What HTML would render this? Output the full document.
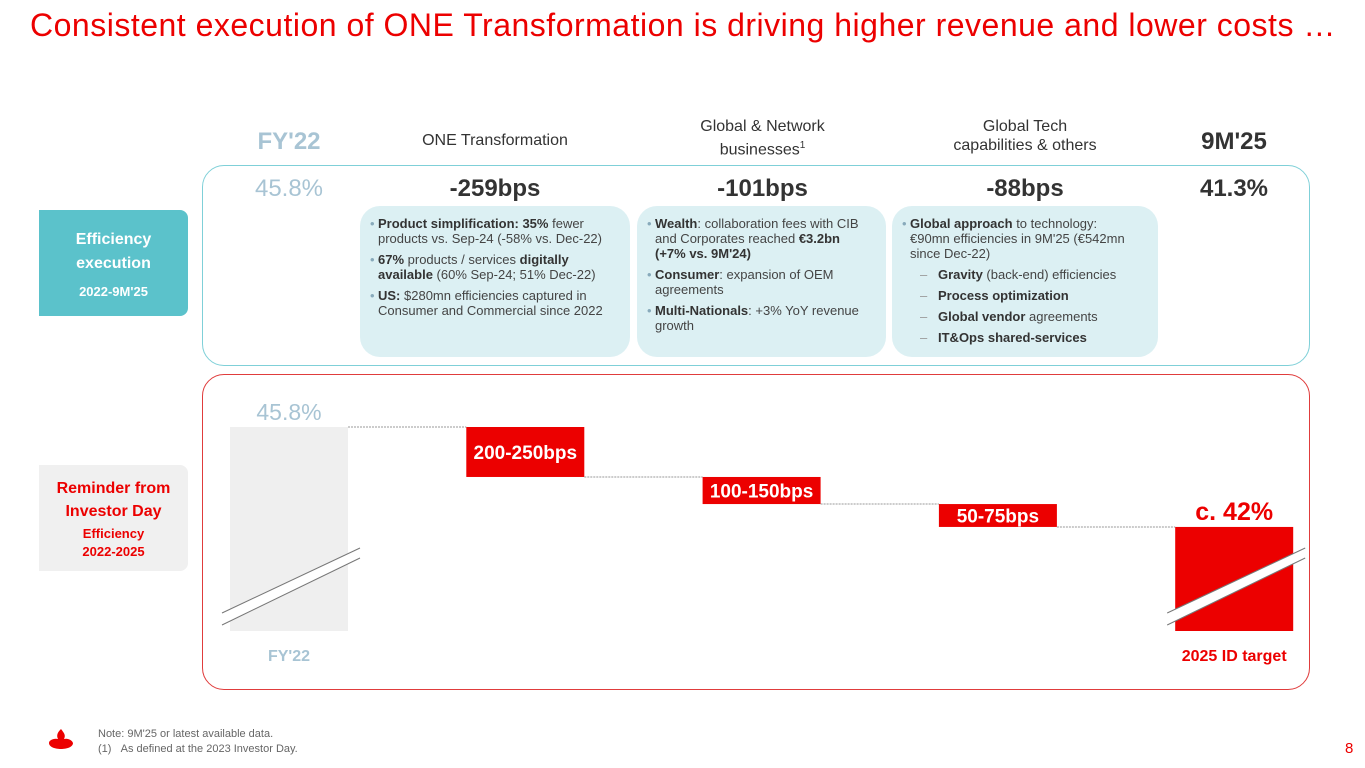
<!DOCTYPE html>
<html><head><meta charset="utf-8">
<style>
*{margin:0;padding:0;box-sizing:border-box}
body{width:1365px;height:768px;overflow:hidden;background:#fff;font-family:"Liberation Sans",sans-serif;position:relative;color:#444}
.abs{position:absolute}
.title{left:30px;top:7px;font-size:32px;color:#ec0000;letter-spacing:0.5px;white-space:nowrap}
.hdr{font-size:16px;color:#333;text-align:center;line-height:19px}
.big{font-size:24px;font-weight:bold;color:#333;text-align:center}
.bub{background:#dcf0f3;border-radius:20px;font-size:13px;line-height:15px;color:#444;padding:10px 26px 0 18px}
.bub p{position:relative;margin-bottom:6px}
.bub p:before{content:"•";position:absolute;left:-8px;color:#8ab}
.bub b{color:#333}
.dash{padding-left:28px;margin-bottom:6px;position:relative}
.dash:before{content:"–";position:absolute;left:10px;color:#999}
</style></head><body>
<div class="abs title">Consistent execution of ONE Transformation is driving higher revenue and lower costs …</div>

<div class="abs" style="left:202px;top:165px;width:1108px;height:201px;border:1px solid #7fd0d8;border-radius:22px"></div>
<div class="abs" style="left:202px;top:374px;width:1108px;height:316px;border:1px solid #e03c3c;border-radius:22px"></div>

<div class="abs" style="left:39px;top:210px;width:149px;height:106px;background:#5bc2cb;color:#fff;text-align:center;border-radius:0 8px 8px 0;padding-top:18px">
<div style="font-size:16px;font-weight:bold;line-height:24px">Efficiency<br>execution</div><div style="font-size:13px;font-weight:bold;margin-top:8px">2022-9M'25</div></div>
<div class="abs" style="left:39px;top:465px;width:149px;height:106px;background:#f0f0f0;color:#ec0000;text-align:center;border-radius:0 8px 8px 0;padding-top:12px;font-weight:bold">
<div style="font-size:16px;line-height:23px">Reminder from<br>Investor Day</div><div style="font-size:13px;line-height:18px;margin-top:2px">Efficiency<br>2022-2025</div></div>

<div class="abs big" style="left:230px;top:128px;width:118px;color:#a8c4d4">FY'22</div>
<div class="abs big" style="left:1175px;top:128px;width:118px">9M'25</div>
<div class="abs hdr" style="left:380px;top:131px;width:230px">ONE Transformation</div>
<div class="abs hdr" style="left:650px;top:117px;width:225px">Global &amp; Network<br>businesses<sup style="font-size:10px">1</sup></div>
<div class="abs hdr" style="left:910px;top:117px;width:230px">Global Tech<br>capabilities &amp; others</div>

<div class="abs big" style="left:230px;top:175px;width:118px;color:#a8c4d4;font-weight:normal">45.8%</div>
<div class="abs big" style="left:380px;top:175px;width:230px">-259bps</div>
<div class="abs big" style="left:650px;top:175px;width:225px">-101bps</div>
<div class="abs big" style="left:910px;top:175px;width:230px">-88bps</div>
<div class="abs big" style="left:1175px;top:175px;width:118px">41.3%</div>

<div class="abs bub" style="left:360px;top:206px;width:270px;height:151px">
<p><b>Product simplification: 35%</b> fewer products vs. Sep-24 (-58% vs. Dec-22)</p>
<p><b>67%</b> products / services <b>digitally available</b> (60% Sep-24; 51% Dec-22)</p>
<p><b>US:</b> $280mn efficiencies captured in Consumer and Commercial since 2022</p></div>
<div class="abs bub" style="left:637px;top:206px;width:249px;height:151px">
<p><b>Wealth</b>: collaboration fees with CIB and Corporates reached <b>€3.2bn (+7% vs. 9M'24)</b></p>
<p><b>Consumer</b>: expansion of OEM agreements</p>
<p><b>Multi-Nationals</b>: +3% YoY revenue growth</p></div>
<div class="abs bub" style="left:892px;top:206px;width:266px;height:151px;padding-right:20px">
<p><b>Global approach</b> to technology: €90mn efficiencies in 9M'25 (€542mn since Dec-22)</p>
<div class="dash"><b>Gravity</b> (back-end) efficiencies</div>
<div class="dash"><b>Process optimization</b></div>
<div class="dash"><b>Global vendor</b> agreements</div>
<div class="dash"><b>IT&amp;Ops shared-services</b></div></div>

<svg class="abs" style="left:0;top:0" width="1365" height="768" id="wf"></svg>

<div class="abs" style="left:98px;top:727px;font-size:11px;color:#666;line-height:15px">Note: 9M'25 or latest available data.<br>(1)&nbsp;&nbsp;&nbsp;As defined at the 2023 Investor Day.</div>
<svg class="abs" style="left:48px;top:727px" width="26" height="24"><path d="M13 2c3 4 5 6 3 10 4-1 8 1 9 4 0 4-6 6-12 6S1 20 1 16c0-3 5-5 9-4-2-4 0-7 3-10z" fill="#ec0000"/></svg>
<div class="abs" style="left:1345px;top:740px;font-size:15px;color:#ec0000">8</div>

<script>
const categories=["FY'22","200-250bps","100-150bps","50-75bps","2025 ID target"];
const startValue=45.8;
const drops=[1.9,1.03,0.87];
const endValue=42.0;
const topLabels=["45.8%","c. 42%"];
const svg=document.getElementById('wf');
const NS='http://www.w3.org/2000/svg';
const yTop=427,pxPer=26.3,yBase=631;
const y=v=>yTop+(startValue-v)*pxPer;
const xs=i=>230+i*236.3;
const bw=118;
function mk(t,a){const e=document.createElementNS(NS,t);for(const k in a)e.setAttribute(k,a[k]);svg.appendChild(e);return e;}
function slash(x){const g=mk('polygon',{points:`${x-8},${yBase-18} ${x+bw+12},${yBase-83} ${x+bw+12},${yBase-73} ${x-8},${yBase-6}`,fill:'#fff'});

mk('line',{x1:x-8,y1:yBase-18,x2:x+bw+12,y2:yBase-83,stroke:'#777','stroke-width':1});
mk('line',{x1:x-8,y1:yBase-6,x2:x+bw+12,y2:yBase-73,stroke:'#777','stroke-width':1});}
let r=mk('rect',{x:xs(0),y:y(startValue),width:bw,height:yBase-y(startValue),fill:'#efefef'});

slash(xs(0));
let t=mk('text',{x:xs(0)+bw/2,y:y(startValue)-7,'text-anchor':'middle','font-size':23,fill:'#a8c4d4'});t.textContent=topLabels[0];

let cur=startValue;
drops.forEach((d,i)=>{const x=xs(i+1);
 const l=mk('line',{x1:xs(i)+bw,y1:y(cur),x2:x,y2:y(cur),stroke:'#999','stroke-dasharray':'2,1'});
 
 const b=mk('rect',{x:x,y:y(cur),width:bw,height:d*pxPer,fill:'#ec0000'});
 
 const tt=mk('text',{x:x+bw/2,y:y(cur)+d*pxPer/2+7,'text-anchor':'middle','font-size':19,'font-weight':'bold',fill:'#fff'});tt.textContent=categories[i+1];
 
 cur-=d;});
const lx=mk('line',{x1:xs(3)+bw,y1:y(cur),x2:xs(4),y2:y(endValue),stroke:'#999','stroke-dasharray':'2,1'});

r=mk('rect',{x:xs(4),y:y(endValue),width:bw,height:yBase-y(endValue),fill:'#ec0000'});

slash(xs(4));
t=mk('text',{x:xs(4)+bw/2,y:y(endValue)-7,'text-anchor':'middle','font-size':25,'font-weight':'bold',fill:'#ec0000'});t.textContent=topLabels[1];

t=mk('text',{x:xs(0)+bw/2,y:661,'text-anchor':'middle','font-size':16,'font-weight':'bold',fill:'#a8c4d4'});t.textContent=categories[0];

t=mk('text',{x:xs(4)+bw/2,y:661,'text-anchor':'middle','font-size':16,'font-weight':'bold',fill:'#ec0000'});t.textContent=categories[4];

</script>
</body></html>
